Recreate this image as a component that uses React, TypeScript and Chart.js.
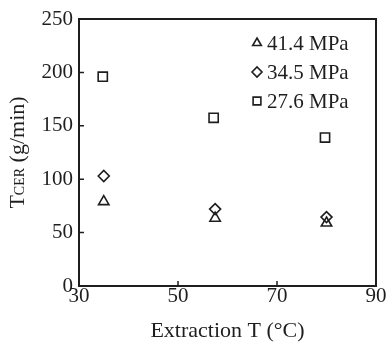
import React, { useEffect, useRef } from "react";
import { Chart, registerables } from "chart.js";
import { drawPoint } from "chart.js/helpers";

Chart.register(...registerables);

const seriesLabels = ["41.4 MPa", "34.5 MPa", "27.6 MPa"];
const seriesStyles = ["triangle", "rectRot", "rect"];
const xTriangle = [35, 57.5, 80];
const yTriangle = [79, 63.5, 59];
const xDiamond = [35, 57.5, 80];
const yDiamond = [103, 72, 64.5];
const xSquare = [34.8, 57.2, 79.7];
const ySquare = [196, 157.5, 139];
const xTicks = [30, 50, 70, 90];
const yTicks = [0, 50, 100, 150, 200, 250];

const INK = "#1e1e1e";
const FONT = "'Liberation Serif', 'DejaVu Serif', serif";

const toPoints = (xs: number[], ys: number[]) => xs.map((x, i) => ({ x, y: ys[i] }));

const framePlugin = {
  id: "frameAndExtras",
  afterDraw(chart: any) {
    const { ctx, chartArea } = chart;
    const { left, right, top, bottom } = chartArea;
    const xs = chart.scales.x;
    const ys = chart.scales.y;
    ctx.save();
    ctx.strokeStyle = INK;
    ctx.lineWidth = 2;
    ctx.strokeRect(left, top, right - left, bottom - top);
    ctx.lineWidth = 1.5;
    ctx.beginPath();
    xTicks.forEach((v) => {
      const px = xs.getPixelForValue(v);
      ctx.moveTo(px, bottom);
      ctx.lineTo(px, bottom - 5);
    });
    yTicks.forEach((v) => {
      const py = ys.getPixelForValue(v);
      ctx.moveTo(left, py);
      ctx.lineTo(left + 5, py);
    });
    ctx.stroke();

    // legend
    const legendX = 257;
    const legendY = [43, 72, 101];
    ctx.font = `21px ${FONT}`;
    ctx.textBaseline = "middle";
    ctx.textAlign = "left";
    ctx.fillStyle = INK;
    seriesLabels.forEach((lab, i) => {
      ctx.strokeStyle = INK;
      ctx.lineWidth = 1.6;
      ctx.fillStyle = "rgba(0,0,0,0)";
      drawPoint(ctx, { pointStyle: seriesStyles[i], radius: i === 2 ? 5.5 : 5, rotation: 0, borderWidth: 1.6 }, legendX, legendY[i]);
      ctx.fillStyle = INK;
      ctx.fillText(lab, legendX + 10, legendY[i] + 1);
    });

    // y title with small caps subscript part
    ctx.save();
    ctx.translate(17, (top + bottom) / 2);
    ctx.rotate(-Math.PI / 2);
    const big = `22px ${FONT}`;
    const small = `14px ${FONT}`;
    const parts: [string, string][] = [["T", big], ["CER", small], [" (g/min)", big]];
    let total = 0;
    parts.forEach(([t, f]) => {
      ctx.font = f;
      total += ctx.measureText(t).width;
    });
    let cx = -total / 2;
    ctx.textBaseline = "alphabetic";
    parts.forEach(([t, f]) => {
      ctx.font = f;
      ctx.fillText(t, cx, 7);
      cx += ctx.measureText(t).width;
    });
    ctx.restore();
    ctx.restore();
  },
};

export default function App() {
  const ref = useRef<HTMLCanvasElement | null>(null);
  useEffect(() => {
    if (!ref.current) return;
    const common = {
      showLine: false,
      borderColor: INK,
      backgroundColor: "rgba(0,0,0,0)",
      borderWidth: 1.6,
    };
    const chart = new Chart(ref.current, {
      type: "scatter",
      data: {
        datasets: [
          { ...common, label: seriesLabels[0], data: toPoints(xTriangle, yTriangle), pointStyle: "triangle", pointRadius: 6 },
          { ...common, label: seriesLabels[1], data: toPoints(xDiamond, yDiamond), pointStyle: "rectRot", pointRadius: 5.5 },
          { ...common, label: seriesLabels[2], data: toPoints(xSquare, ySquare), pointStyle: "rect", pointRadius: 6.5 },
        ],
      },
      options: {
        responsive: false,
        animation: false,
        layout: { padding: { top: 19, right: 11, left: 0, bottom: 0 } },
        plugins: { legend: { display: false }, tooltip: { enabled: false } },
        scales: {
          x: {
            type: "linear",
            min: 30,
            max: 90,
            afterBuildTicks: (s: any) => { s.ticks = xTicks.map((v) => ({ value: v })); },
            afterFit: (s: any) => { s.height = 58; },
            ticks: { color: INK, font: { family: FONT, size: 21 }, padding: -2, maxRotation: 0 },
            grid: { display: false, drawTicks: false },
            border: { display: false },
            title: { display: true, text: "Extraction T (°C)", color: INK, font: { family: FONT, size: 22 }, padding: { top: 0, bottom: 0 } },
          },
          y: {
            type: "linear",
            min: 0,
            max: 250,
            afterBuildTicks: (s: any) => { s.ticks = yTicks.map((v) => ({ value: v })); },
            afterFit: (s: any) => { s.width = 79; },
            ticks: { color: INK, font: { family: FONT, size: 21 }, padding: 6 },
            grid: { display: false, drawTicks: false },
            border: { display: false },
          },
        },
      },
      plugins: [framePlugin],
    } as any);
    return () => chart.destroy();
  }, []);
  return (
    <div style={{ position: "fixed", left: 0, top: 0, width: 387, height: 344, background: "#fff" }}>
      <canvas ref={ref} width={387} height={344} />
    </div>
  );
}
